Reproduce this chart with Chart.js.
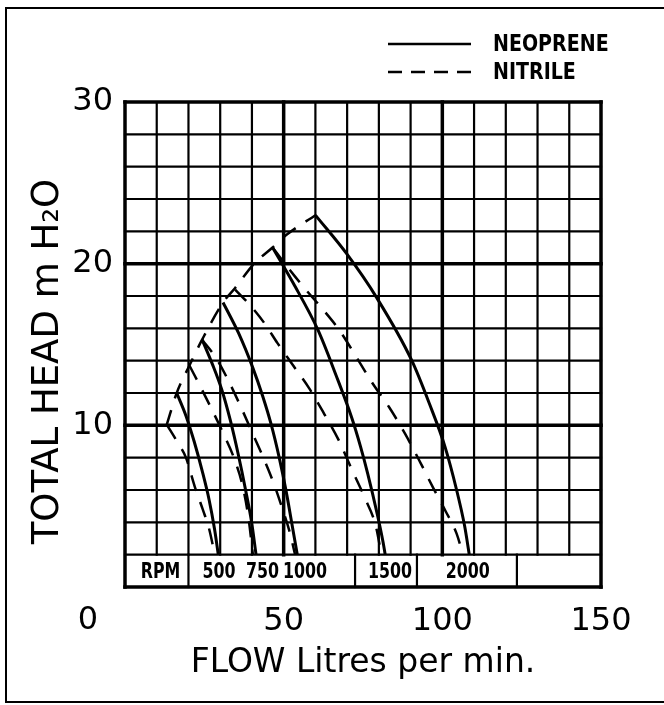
<!DOCTYPE html>
<html>
<head>
<meta charset="utf-8">
<title>Total head vs flow</title>
<script src="https://cdn.jsdelivr.net/npm/chart.js@4.4.1/dist/chart.umd.min.js"></script>
<style>
  html, body { margin: 0; padding: 0; background: #fff; overflow: hidden; }
  #wrap { position: relative; width: 664px; height: 705px; }
  #frame {
    position: absolute; left: 5px; top: 7px; width: 680px; height: 696px;
    border: 2px solid #000; border-right: none; box-sizing: border-box; pointer-events: none;
  }
</style>
</head>
<body>
<div id="wrap">
  <canvas id="chart" width="664" height="705"></canvas>
  <div id="frame"></div>
</div>
<script>
// points are [flow l/min, head m H2O]

// neoprene impeller (solid curves)
const neoprene500  = [[16.3, 12.0], [19.2, 10.6], [21.8, 9.0], [24.3, 7.2], [26.5, 5.4], [28.2, 3.6], [29.4, 2.0]];
const neoprene750  = [[24.3, 15.3], [27.5, 13.8], [30.5, 12.2], [33.2, 10.3], [35.8, 8.1], [38.0, 6.0], [39.9, 4.0], [41.3, 2.0]];
const neoprene1000 = [[30.9, 17.6], [35.8, 15.7], [40.2, 13.6], [43.4, 11.8], [46.0, 10.1], [48.6, 8.0], [50.8, 5.9], [52.6, 3.9], [54.3, 2.0]];
const neoprene1500 = [[46.5, 21.0], [53.0, 18.8], [60.8, 15.9], [66.5, 13.1], [71.4, 10.5], [74.2, 8.7], [76.5, 7.0], [79.5, 4.5], [81.3, 2.8], [82.0, 2.0]];
const neoprene2000 = [[60.0, 23.0], [69.9, 20.6], [79.3, 17.9], [90.4, 14.0], [96.0, 11.3], [100.8, 8.7], [104.5, 6.0], [107.0, 3.8], [108.5, 2.0]];

// nitrile impeller (dashed curves)
const nitrile500  = [[13.3, 10.0], [16.4, 9.0], [19.2, 8.0], [22.0, 6.2], [24.5, 4.8], [26.5, 3.6], [28.3, 2.0]];
const nitrile750  = [[20.3, 13.7], [24.0, 12.3], [27.7, 10.85], [31.1, 9.45], [34.4, 7.95], [37.0, 6.3], [38.9, 4.3], [40.3, 2.0]];
const nitrile1000 = [[24.3, 15.3], [28.9, 14.1], [33.0, 12.6], [36.6, 11.1], [40.2, 9.5], [43.6, 8.0], [46.7, 6.5], [49.5, 4.9], [51.9, 3.4], [53.6, 2.0]];
const nitrile1500 = [[34.7, 18.4], [40.0, 17.3], [44.0, 16.3], [48.0, 15.1], [53.0, 13.7], [58.0, 12.3], [62.8, 10.7], [67.3, 9.1], [71.4, 7.3], [75.6, 5.5], [79.0, 3.8], [80.8, 2.0]];
const nitrile2000 = [[46.5, 21.0], [50.0, 20.1], [53.6, 19.2], [57.8, 18.2], [61.8, 17.3], [67.5, 15.9], [73.3, 14.1], [78.0, 12.6], [83.3, 11.1], [88.2, 9.5], [93.2, 7.65], [97.2, 6.1], [101.0, 4.7], [104.5, 3.3], [106.5, 2.0]];

// dashed limit line joining the tops of the curves
const limitLine = [[13.1, 10.0], [16.3, 12.0], [20.3, 13.7], [24.3, 15.3], [30.9, 17.6], [34.7, 18.5], [40.7, 20.0], [46.5, 21.0], [51.0, 21.8], [60.0, 23.0]];

// axis ticks
const flowTicks = [0, 50, 100, 150];
const headTicks = [10, 20, 30];

// rpm strip along the bottom row of the grid
const rpmText = ['RPM', '500', '750', '1000', '1500', '2000'];
const rpmTextFlow = [11.2, 29.6, 43.3, 56.7, 83.5, 108];
const rpmDividers = [20, 72.5, 92, 123.5];

const legendNames = ['NEOPRENE', 'NITRILE'];
const headTitle = 'TOTAL HEAD m H₂O';

const gridFlowStep = 10;
const gridHeadStep = 2;
const stripTop = 2;

const sansFamily = '"DejaVu Sans", sans-serif';
const tickFont = { family: sansFamily, size: 32 };
const narrowFont = '"DejaVu Sans Condensed", "Liberation Sans Narrow", sans-serif';

function curve(label, pts, dashed) {
    return {
        label: label,
        data: pts.map(p => ({ x: p[0], y: p[1] })),
        showLine: true,
        borderColor: '#000',
        borderWidth: dashed ? 2.5 : 3,
        borderDash: dashed ? [16, 12] : [],
        pointRadius: 0,
        cubicInterpolationMode: 'monotone',
        fill: false
    };
}

// squeezed text, the drawing uses a tall narrow lettering
function narrowText(ctx, text, x, y, squeeze) {
    ctx.save();
    ctx.translate(x, y);
    ctx.scale(squeeze, 1);
    ctx.fillText(text, 0, 0);
    ctx.restore();
}

// grid paper + rpm strip, drawn under the curves
const paperGrid = {
    id: 'paperGrid',
    beforeDatasetsDraw(chart) {
        const { ctx, scales: { x, y } } = chart;
        ctx.save();
        ctx.strokeStyle = '#000';
        ctx.lineCap = 'square';

        for (let f = x.min; f <= x.max; f += gridFlowStep) {
            const edge = f === x.min || f === x.max;
            ctx.lineWidth = f % 50 === 0 ? 3.5 : 2.2;
            const px = x.getPixelForValue(f);
            ctx.beginPath();
            ctx.moveTo(px, y.getPixelForValue(edge ? y.min : stripTop));
            ctx.lineTo(px, y.getPixelForValue(y.max));
            ctx.stroke();
        }
        for (let h = y.min; h <= y.max; h += gridHeadStep) {
            ctx.lineWidth = h % 10 === 0 ? 3.5 : 2.2;
            const py = y.getPixelForValue(h);
            ctx.beginPath();
            ctx.moveTo(x.getPixelForValue(x.min), py);
            ctx.lineTo(x.getPixelForValue(x.max), py);
            ctx.stroke();
        }

        ctx.lineWidth = 2.2;
        rpmDividers.forEach(f => {
            const px = x.getPixelForValue(f);
            ctx.beginPath();
            ctx.moveTo(px, y.getPixelForValue(0));
            ctx.lineTo(px, y.getPixelForValue(stripTop));
            ctx.stroke();
        });

        ctx.fillStyle = '#000';
        ctx.font = 'bold 22px ' + narrowFont;
        ctx.textAlign = 'center';
        ctx.textBaseline = 'middle';
        rpmText.forEach((t, i) => {
            narrowText(ctx, t, x.getPixelForValue(rpmTextFlow[i]), y.getPixelForValue(stripTop / 2) + 1, 0.8);
        });
        ctx.restore();
    }
};

// legend, head title and the lone "0" below the corner
const cornerText = {
    id: 'cornerText',
    afterDraw(chart) {
        const { ctx, chartArea, scales: { x } } = chart;
        ctx.save();
        ctx.strokeStyle = '#000';
        ctx.fillStyle = '#000';
        ctx.textBaseline = 'middle';
        ctx.textAlign = 'left';
        ctx.font = 'bold 23px ' + narrowFont;
        legendNames.forEach((name, i) => {
            const ly = 44 + i * 28;
            ctx.lineWidth = 2.5;
            ctx.setLineDash(i === 0 ? [] : [14, 9]);
            ctx.beginPath();
            ctx.moveTo(388, ly);
            ctx.lineTo(471, ly);
            ctx.stroke();
            narrowText(ctx, name, 493, ly + 1, 0.92);
        });
        ctx.setLineDash([]);

        ctx.font = tickFont.size + 'px ' + tickFont.family;
        ctx.textAlign = 'center';
        ctx.fillText('0', x.getPixelForValue(0) - 37, chartArea.bottom + 34);

        // y axis title, rotated
        ctx.save();
        ctx.translate(58, (chartArea.top + chartArea.bottom) / 2 + 17);
        ctx.rotate(-Math.PI / 2);
        ctx.textBaseline = 'alphabetic';
        ctx.font = '37px ' + sansFamily;
        ctx.fillText(headTitle, 0, 0);
        ctx.restore();

        ctx.restore();
    }
};

new Chart(document.getElementById('chart'), {
    type: 'scatter',
    data: {
        datasets: [
            curve('limit', limitLine, true),
            curve('Neoprene 500', neoprene500, false),
            curve('Neoprene 750', neoprene750, false),
            curve('Neoprene 1000', neoprene1000, false),
            curve('Neoprene 1500', neoprene1500, false),
            curve('Neoprene 2000', neoprene2000, false),
            curve('Nitrile 500', nitrile500, true),
            curve('Nitrile 750', nitrile750, true),
            curve('Nitrile 1000', nitrile1000, true),
            curve('Nitrile 1500', nitrile1500, true),
            curve('Nitrile 2000', nitrile2000, true)
        ]
    },
    options: {
        responsive: false,
        animation: false,
        layout: { padding: { top: 102, right: 63, left: 0, bottom: 0 } },
        plugins: {
            legend: { display: false },
            tooltip: { enabled: false }
        },
        scales: {
            x: {
                type: 'linear',
                min: 0,
                max: 150,
                afterBuildTicks: s => { s.ticks = flowTicks.map(v => ({ value: v })); },
                afterFit: s => { s.height = 118; },
                grid: { display: false, drawTicks: false },
                border: { display: false },
                ticks: {
                    color: '#000',
                    font: tickFont,
                    padding: 15,
                    maxRotation: 0,
                    callback: v => (v === 0 ? '' : v)
                },
                title: {
                    display: true,
                    text: 'FLOW Litres per min.',
                    color: '#000',
                    font: { family: sansFamily, size: 33 },
                    padding: { top: 0, bottom: 22 }
                }
            },
            y: {
                type: 'linear',
                min: 0,
                max: 30,
                afterBuildTicks: s => { s.ticks = headTicks.map(v => ({ value: v })); },
                afterFit: s => { s.width = 125; },
                grid: { display: false, drawTicks: false },
                border: { display: false },
                ticks: {
                    color: '#000',
                    font: tickFont,
                    padding: 12
                }
            }
        }
    },
    plugins: [paperGrid, cornerText]
});
</script>
</body>
</html>
